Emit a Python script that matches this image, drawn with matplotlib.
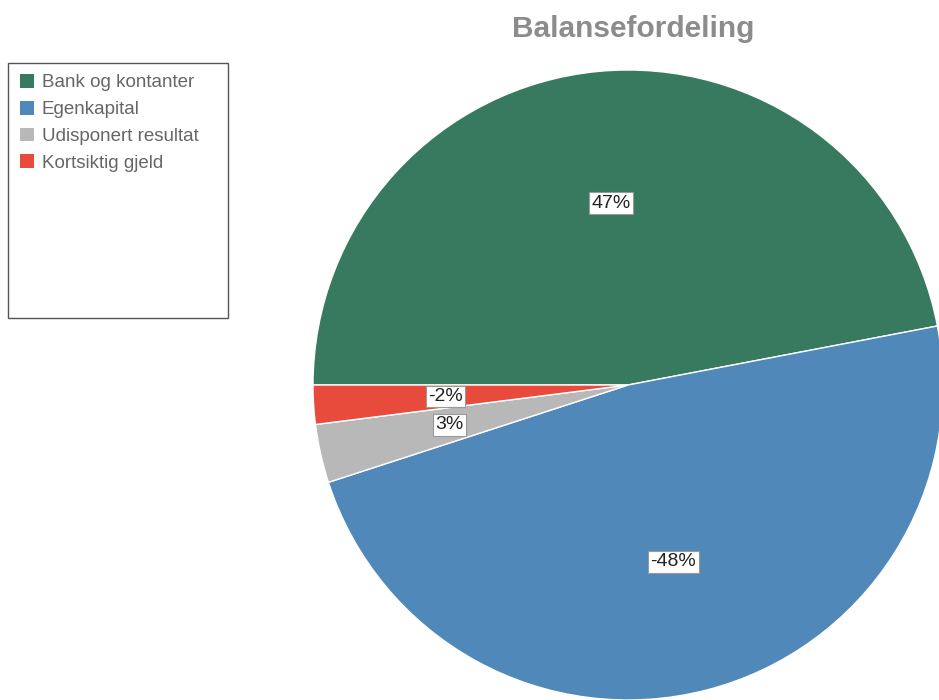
import matplotlib.pyplot as plt
from matplotlib.patches import Rectangle, Patch

plt.rcParams['font.family'] = ['Liberation Sans', 'DejaVu Sans']

# Data
categories = ['Bank og kontanter', 'Egenkapital', 'Udisponert resultat', 'Kortsiktig gjeld']
values = [47, -48, 3, -2]
colors = ['#377a5f', '#5089b9', '#b8b8b8', '#e84a3c']

fig = plt.figure(figsize=(9.39, 7.0), dpi=100)
ax = fig.add_axes([0, 0, 1, 1])

# pie center at (628, 385) px, radius 315 px
r = 315.0
cx, cy = 628.0, 385.0
sizes = [abs(v) for v in values]
wedges, texts = ax.pie(sizes, colors=colors, startangle=180, counterclock=False,
                       radius=1.0, labels=[f'{v}%' for v in values], labeldistance=0.58,
                       wedgeprops=dict(edgecolor='white', linewidth=1))
for t in texts:
    t.set_ha('center')
    t.set_va('center')
    t.set_fontsize(14)
    t.set_color('#222222')
    t.set_bbox(dict(facecolor='white', edgecolor='#999999', boxstyle='square,pad=0.12', linewidth=0.8))

ax.set_xlim(-cx / r, (939 - cx) / r)
ax.set_ylim(-(700 - cy) / r, cy / r)
ax.set_aspect('auto')
ax.axis('off')

fig.text(633 / 939, 1 - 29 / 700, 'Balansefordeling', ha='center', va='center',
         fontsize=21.5, fontweight='bold', color='#8c8c8c')

# Legend box
fig.patches.append(Rectangle((8 / 939, 1 - 318 / 700), 220 / 939, 255 / 700,
                             transform=fig.transFigure, facecolor='white',
                             edgecolor='#555555', linewidth=1))
handles = [Patch(facecolor=c, edgecolor='none') for c in colors]
leg = fig.legend(handles, categories, loc='upper left', bbox_to_anchor=(20 / 939, 1 - 74 / 700),
                 frameon=False, fontsize=13.5, handlelength=0.75, handleheight=0.75,
                 handletextpad=0.4, labelspacing=0.5, borderaxespad=0, borderpad=0)
for t in leg.get_texts():
    t.set_color('#666666')

fig.savefig('out.png', dpi=100)
